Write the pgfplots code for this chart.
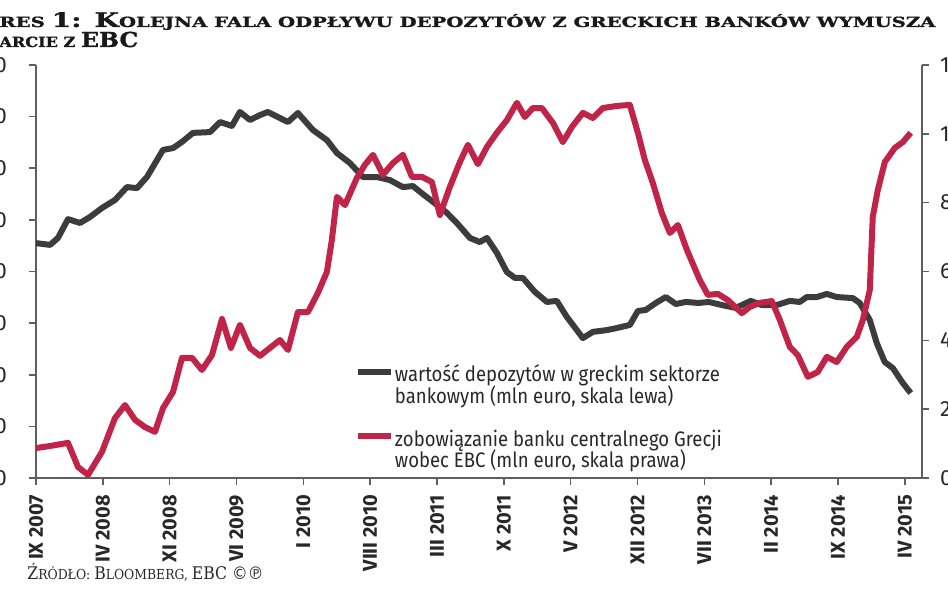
\documentclass[border=0pt]{standalone}
\usepackage{graphicx}
\usepackage{fontspec}
\setmainfont{Fira Sans}
\newfontfamily\titlefont{DejaVu Serif}[BoldFeatures={FakeBold=1.2}]
\newfontfamily\symfont{DejaVu Sans}
\usepackage{pgfplots}
\usepackage{pgfplotstable}
\pgfplotsset{compat=1.18}
\definecolor{depgray}{RGB}{60,60,60}
\definecolor{ecbred}{RGB}{192,36,72}
\definecolor{axgray}{RGB}{95,95,95}
\definecolor{txt}{RGB}{40,40,40}
\definecolor{titlec}{RGB}{25,25,25}

\pgfplotstableread{
m v
0 191000
1.47 190300
2.30 193000
3.35 200300
4.61 198800
5.65 201100
6.91 204600
8.27 207700
9.53 212700
10.58 212300
11.62 216600
13.30 227100
14.35 227800
15.29 230200
16.44 233700
18.22 234000
19.27 237900
20.52 236400
21.36 241800
22.41 238700
23.46 240600
24.29 241800
26.39 237900
27.43 241400
29.01 234800
30.47 230900
31.52 225900
32.88 222000
34.24 216600
35.71 216600
37.07 215400
38.43 212700
39.48 213100
40.52 210000
41.99 205800
43.04 202700
44.08 198800
45.45 193000
46.49 191400
47.23 193000
48.27 187200
49.32 179800
50.16 177500
50.99 177500
52.25 172100
53.51 168200
54.55 168600
55.60 162400
57.28 154200
58.32 156600
59.79 157300
60.84 158100
62.20 159300
63.04 164700
63.87 165100
64.92 167800
65.97 170100
67.02 167400
68.06 168200
69.42 167800
70.47 168200
71.83 167000
73.30 165900
74.87 168600
76.02 167000
77.59 167000
78.95 168600
80.00 168200
80.73 170100
81.78 170100
82.83 171300
83.87 170100
85.55 169700
86.28 167800
87.33 161200
88.06 152300
88.90 144900
89.74 142600
90.79 136800
91.62 132900
}\deposits

\pgfplotstableread{
m v
0 8700
1.47 9300
3.35 10200
4.40 3200
5.45 900
6.91 7600
8.27 17400
9.32 21200
10.37 16900
11.41 14800
12.46 13400
13.30 20300
14.35 25000
15.29 34900
16.34 34900
17.38 31400
18.43 35700
19.48 46200
20.42 37800
21.36 44500
22.41 37800
23.46 35500
25.55 40100
26.39 37200
27.43 48200
28.48 48200
29.53 53800
30.47 59900
30.99 69200
31.52 81700
32.36 79300
33.61 87200
34.45 91000
35.29 93900
36.34 88100
37.38 91500
38.43 93900
39.37 87500
40.42 87500
41.47 86000
42.30 76400
43.35 84600
44.40 91800
45.24 96800
46.28 91200
47.23 96200
48.27 100300
49.32 104000
50.37 109000
51.20 104900
52.04 107500
52.98 107500
54.14 103200
55.18 97600
56.13 102000
57.28 106100
58.32 104600
59.37 107500
60.84 108100
62.20 108400
63.04 100300
63.77 92400
64.61 85700
65.55 77000
66.39 71200
67.23 73500
68.17 66300
69.53 57500
70.37 53200
71.41 53500
72.46 51700
73.93 47900
74.76 49700
75.81 50900
77.07 51400
77.91 45900
78.95 38100
79.79 35700
80.84 29400
81.88 30800
82.83 35200
83.87 33700
84.92 38100
85.97 41000
86.60 45900
87.33 54600
87.64 75800
88.17 83700
88.90 91800
89.95 95900
90.79 97600
91.62 100300
}\ecb

\newlength\lwa
\newcommand\leg[1]{\scalebox{\legscale}[1]{#1}}

\begin{document}
\settowidth\lwa{\fontsize{10.5}{10.5}\selectfont wartość depozytów w greckim sektorze}%
\pgfmathsetmacro\legscale{162.5pt/\lwa}%
\begin{tikzpicture}
\path[use as bounding box] (0,0) rectangle (474pt,296.5pt);
\pgfplotsset{
  common/.style={
    width=443pt, height=206.5pt, scale only axis,
    at={(18pt,57.5pt)}, anchor=south west,
    xmin=0, xmax=92.8,
    tick align=outside, major tick length=3.5pt,
    axis line style={axgray, line width=0.8pt},
    tick style={axgray, line width=0.8pt},
    /pgf/number format/fixed,
    /pgf/number format/assume math mode=true,
    /pgf/number format/1000 sep={\,},
    scaled y ticks=false,
    yticklabel style={font=\fontsize{11}{13}\selectfont, text=txt},
  }
}
\begin{axis}[common,
  ymin=100000, ymax=260000,
  axis x line*=bottom, axis y line*=left,
  xtick={0,7,...,91},
  xticklabels={IX 2007, IV 2008, XI 2008, VI 2009, I 2010, VIII 2010, III 2011, X 2011, V 2012, XII 2012, VII 2013, II 2014, IX 2014, IV 2015},
  xticklabel style={rotate=90, anchor=east, inner xsep=4.8pt, font=\bfseries\fontsize{10}{12}\selectfont, text=txt},
  ytick={100000,120000,...,260000},
  yticklabel style={xshift=-7.5pt},
]
\addplot[depgray, line width=3pt, line join=round] table[x=m, y=v] {\deposits};
\end{axis}
\begin{axis}[common,
  ymin=0, ymax=120000,
  axis x line=none, axis y line*=right,
  ytick={0,20000,...,120000},
  yticklabel style={xshift=2pt},
  legend style={at={(rel axis cs:0.360,0.2688)}, anchor=north west,
    draw=none, fill=none, inner sep=0pt, outer sep=0pt,
    cells={anchor=base west},
    nodes={inner sep=0pt, text=txt, text height=7.5pt, text depth=3.25pt},
    column sep=0.5pt, row sep=0pt,
    font=\fontsize{10.5}{10.5}\selectfont},
  legend image code/.code={\draw[line width=3pt] (0pt,5pt) -- (16.5pt,5pt);},
]
\addlegendimage{depgray, line width=3pt}
\addlegendentry{\leg{wartość depozytów w greckim sektorze}}
\addlegendimage{empty legend}
\addlegendentry{\leg{bankowym (mln euro, skala lewa)}}
\addlegendimage{empty legend}
\addlegendentry{}
\addplot[ecbred, line width=3pt, line join=round] table[x=m, y=v] {\ecb};
\addlegendentry{\leg{zobowiązanie banku centralnego Grecji}}
\addlegendimage{empty legend}
\addlegendentry{\leg{wobec EBC (mln euro, skala prawa)}}
\end{axis}
% title
\node[anchor=base east, inner sep=0pt, text=titlec] at (-0.5pt,283pt)
  {\titlefont\bfseries\fontsize{10}{10}\selectfont W{\fontsize{7}{7}\selectfont YK}};
\node[anchor=base west, inner sep=0pt, text=titlec] at (-0.5pt,283pt)
  {\resizebox{468pt}{\height}{\titlefont\bfseries\fontsize{10}{10}\selectfont{\fontsize{7}{7}\selectfont RES }1: K{\fontsize{7}{7}\selectfont OLEJNA FALA ODPŁYWU DEPOZYTÓW Z GRECKICH BANKÓW WYMUSZA}}};
\node[anchor=base east, inner sep=0pt, text=titlec] at (-0.5pt,273pt)
  {\titlefont\bfseries\fontsize{7}{7}\selectfont WSP};
\node[anchor=base west, inner sep=0pt, text=titlec] at (-0.5pt,273pt)
  {\resizebox{69.5pt}{\height}{\titlefont\bfseries\fontsize{10.3}{10}\selectfont{\fontsize{7}{7}\selectfont ARCIE Z }EBC}};
% source
\node[anchor=base west, inner sep=0pt, text=txt] at (13.5pt,6.5pt)
  {\resizebox{118pt}{\height}{\titlefont\fontsize{8.7}{9}\selectfont Ź{\fontsize{6.9}{7}\selectfont RÓDŁO: }B{\fontsize{6.9}{7}\selectfont LOOMBERG, }EBC {\symfont ©℗}}};
\end{tikzpicture}
\end{document}
